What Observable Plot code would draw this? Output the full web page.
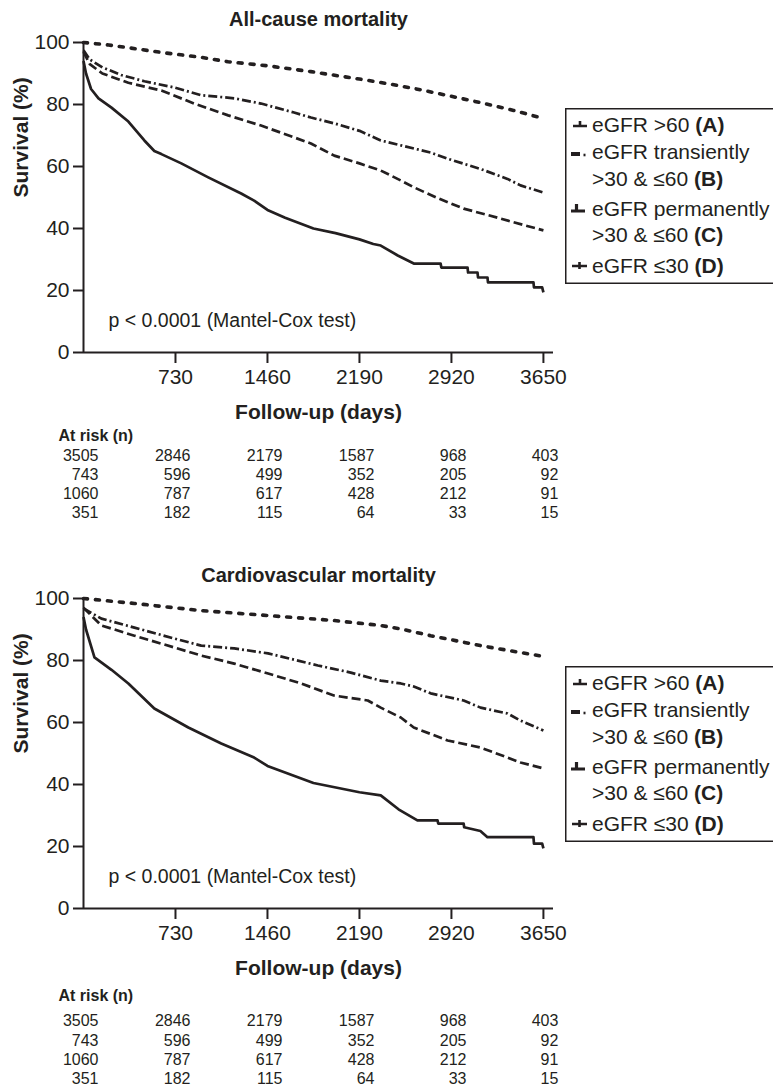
<!DOCTYPE html>
<html>
<head>
<meta charset="utf-8">
<script src="https://cdn.jsdelivr.net/npm/d3@7"></script>
<script src="https://cdn.jsdelivr.net/npm/@observablehq/plot@0.6"></script>
<style>
  body { margin: 0; background: #fff; }
  #root { position: relative; width: 773px; height: 1086px; overflow: hidden; background: #fff;
          font-family: "Liberation Sans", Arial, Helvetica, sans-serif; color: #231f20; }
  .panel { position: absolute; left: 0; }
  .legend { position: absolute; left: 565px; overflow: visible; }
  .legend text { white-space: pre; }
</style>
</head>
<body>
<div id="root"></div>
<script>
// ---------- data ----------
const xTicks = [730, 1460, 2190, 2920, 3650];
const yTicks = [0, 20, 40, 60, 80, 100];
const riskDays = [0, 730, 1460, 2190, 2920, 3650];
const riskA = [3505, 2846, 2179, 1587, 968, 403];
const riskB = [743, 596, 499, 352, 205, 92];
const riskC = [1060, 787, 617, 428, 212, 91];
const riskD = [351, 182, 115, 64, 33, 15];

const titles = ["All-cause mortality", "Cardiovascular mortality"];
const pText = "p < 0.0001 (Mantel-Cox test)";
const xLabel = "Follow-up (days)";
const yLabel = "Survival (%)";
const atRiskLabel = "At risk (n)";

// All-cause mortality: [day, survival %]
const allA = [[0,100],[200,99.2],[618,96.8],[934,95.2],[1148,93.8],[1460,92.5],[1805,90.6],[2190,88.2],[2359,87.1],[2621,85.2],[2890,82.9],[3151,80.6],[3413,78.1],[3650,75.5]];
const allB = [[0,97.5],[50,94.5],[150,92],[300,89.5],[483,87.5],[720,85.5],[934,83],[1196,82],[1409,80.3],[1671,77.4],[1805,75.8],[2000,73.8],[2190,71.5],[2359,68.4],[2755,64.5],[2890,62.5],[3151,59.2],[3365,56],[3468,53.9],[3650,51.6]];
const allC = [[0,97],[50,93],[150,90],[356,87],[618,84.5],[879,80.3],[1148,76.5],[1409,73.2],[1671,69.4],[1805,67.4],[1990,63.5],[2190,61],[2359,58.7],[2518,55.5],[2621,53.3],[2800,50],[3017,46.4],[3286,43.5],[3413,42],[3650,39.4]];
const allD = [[0,94],[20,90],[60,85],[119,82],[222,79],[356,74.5],[483,68.4],[562,65],[618,64],[776,61],[990,56.5],[1251,51.3],[1354,49],[1460,46],[1600,43.5],[1825,40],[2000,38.5],[2190,36.5],[2300,35],[2359,34.5],[2494,31.3],[2621,28.7],[2834,28.7],[2840,27.4],[3048,27.4],[3052,25.8],[3127,25.8],[3131,24.2],[3206,24.2],[3210,22.6],[3571,22.6],[3575,21],[3640,21],[3650,19.4]];

// Cardiovascular mortality: [day, survival %]
const cvA = [[0,100],[404,98.4],[934,96.1],[1465,94.5],[1987,92.9],[2359,91.3],[2518,90.2],[2755,88],[3151,84.8],[3650,81.3]];
const cvB = [[0,96.8],[142,93.5],[404,90.6],[720,87.1],[934,84.8],[1196,83.9],[1465,82.3],[1860,78.4],[2121,76.1],[2359,73.5],[2518,72.6],[2621,71.6],[2755,69.4],[3017,67.1],[3151,64.8],[3365,62.9],[3468,60.6],[3650,57.4]];
const cvC = [[0,97],[142,91.3],[404,88],[720,84.2],[934,81.6],[1196,79],[1465,75.8],[1726,72.6],[1987,68.7],[2256,67.1],[2359,64.8],[2518,61.6],[2621,58.4],[2890,54.2],[3151,51.9],[3365,48.7],[3468,47.1],[3650,45.2]];
const cvD = [[0,94],[20,90],[87,81],[222,77],[356,72.6],[562,64.5],[832,58.4],[1093,53.2],[1354,48.7],[1460,46],[1825,40.5],[2190,37.5],[2359,36.5],[2500,32],[2650,28.4],[2810,28.4],[2815,27.4],[3017,27.4],[3021,26.2],[3150,25],[3206,23],[3571,23],[3575,20.9],[3640,20.9],[3650,19.4]];

const legendEntries = [
  [{t: "eGFR >60 ", b: "(A)"}],
  [{t: "eGFR transiently", b: ""}, {t: ">30 & \u226460 ", b: "(B)"}],
  [{t: "eGFR permanently", b: ""}, {t: ">30 & \u226460 ", b: "(C)"}],
  [{t: "eGFR \u226430 ", b: "(D)"}]
];

// ---------- drawing ----------
const INK = "#231f20";
const FONT = '"Liberation Sans", Arial, Helvetica, sans-serif';
const styles = {
  A: {strokeWidth: 3.6, strokeDasharray: "4,8", strokeLinecap: "round"},
  B: {strokeWidth: 2.7, strokeDasharray: "9,3,2,3", strokeLinecap: "butt"},
  C: {strokeWidth: 2.7, strokeDasharray: "9,4", strokeLinecap: "butt"},
  D: {strokeWidth: 2.7, strokeDasharray: null, strokeLinecap: "butt"}
};
const riskRows = [riskA, riskB, riskC, riskD];

function toRows(pts) { return pts.map(([day, surv]) => ({day, surv})); }

function makePanel(title, curves, atRiskY, rowY) {
  const marks = [];
  for (const key of ["A", "B", "C", "D"]) {
    const s = styles[key];
    const opts = {x: "day", y: "surv", stroke: INK, strokeWidth: s.strokeWidth, strokeLinecap: s.strokeLinecap, strokeLinejoin: "round"};
    if (s.strokeDasharray) opts.strokeDasharray = s.strokeDasharray;
    marks.push(Plot.line(toRows(curves[key]), opts));
  }
  marks.push(
    Plot.ruleX([0], {stroke: INK, strokeWidth: 2}),
    Plot.ruleY([0], {stroke: INK, strokeWidth: 2}),
    Plot.axisX(xTicks, {tickSize: 11, tickPadding: 6, fontSize: 21, strokeWidth: 2, stroke: INK, fill: INK, label: null, tickFormat: d => String(d)}),
    Plot.axisY(yTicks, {tickSize: 10, tickPadding: 4, fontSize: 21, strokeWidth: 2, stroke: INK, fill: INK, label: null, tickFormat: d => String(d)}),
    Plot.text([title], {frameAnchor: "top", dy: -17, lineAnchor: "bottom", fontSize: 20, fontWeight: "bold", fill: INK}),
    Plot.text([yLabel], {frameAnchor: "left", rotate: -90, dx: -62, lineAnchor: "middle", fontSize: 21, fontWeight: "bold", fill: INK}),
    Plot.text([xLabel], {frameAnchor: "bottom", dy: 66, lineAnchor: "bottom", fontSize: 21, fontWeight: "bold", fill: INK}),
    Plot.text([pText], {frameAnchor: "bottom-left", dx: 25, dy: -26, textAnchor: "start", lineAnchor: "bottom", fontSize: 19.5, fill: INK}),
    Plot.text([atRiskLabel], {frameAnchor: "bottom-left", dx: -25, dy: atRiskY - 352, textAnchor: "start", lineAnchor: "bottom", fontSize: 16, fontWeight: "bold", fill: INK})
  );
  riskRows.forEach((row, i) => {
    marks.push(Plot.text(row.map((n, j) => ({day: riskDays[j], n: String(n)})), {
      x: "day", text: "n", frameAnchor: "bottom", dy: rowY[i] - 352, dx: 15,
      textAnchor: "end", lineAnchor: "bottom", fontSize: 16, fill: INK
    }));
  });
  return Plot.plot({
    width: 773, height: 530,
    marginLeft: 83, marginRight: 220, marginTop: 42, marginBottom: 178,
    x: {domain: [0, 3730]},
    y: {domain: [0, 100]},
    style: {fontFamily: FONT, fontSize: "21px", color: INK, background: "transparent", overflow: "visible"},
    marks
  });
}

function makeLegend(top) {
  const ns = "http://www.w3.org/2000/svg";
  const w = 230, h = 175;
  const baselines = [[24], [51, 78], [108, 134], [165]];
  let s = `<svg xmlns="${ns}" class="legend" width="${w}" height="${h + 2}" style="top:${top}px" font-family='${FONT}' font-size="21" fill="${INK}">`;
  s += `<rect x="0.75" y="0.75" width="${w + 20}" height="${h - 0.5}" fill="white" stroke="${INK}" stroke-width="1.5"/>`;
  legendEntries.forEach((lines, i) => {
    lines.forEach((ln, k) => {
      const y = baselines[i][k];
      s += `<text x="27" y="${y}">${ln.t.replace(/&/g, "&amp;").replace(/</g, "&lt;").replace(/>/g, "&gt;")}${ln.b ? `<tspan font-weight="bold">${ln.b}</tspan>` : ""}</text>`;
    });
    const b = baselines[i][0];
    const g = `stroke="${INK}" stroke-width="2.6" fill="none"`;
    if (i === 0) s += `<path d="M8 ${b - 6}H22M15 ${b - 11}V${b - 6}" ${g}/>`;
    if (i === 1) s += `<path d="M6 ${b - 5}H15" stroke="${INK}" stroke-width="4" fill="none"/><path d="M18.5 ${b - 4}H20.5" ${g}/>`;
    if (i === 2) s += `<path d="M6 ${b - 5}H20M11.5 ${b - 12}V${b - 5}" stroke="${INK}" stroke-width="3.2" fill="none"/>`;
    if (i === 3) s += `<path d="M7 ${b - 7}H22M14.5 ${b - 11}V${b - 4}" ${g}/>`;
  });
  s += `</svg>`;
  return s;
}

const root = document.getElementById("root");
const p1 = makePanel(titles[0], {A: allA, B: allB, C: allC, D: allD}, 440, [460, 479, 498, 517]);
p1.classList.add("panel"); p1.style.top = "0px"; p1.style.position = "absolute";
root.appendChild(p1);
const p2 = makePanel(titles[1], {A: cvA, B: cvB, C: cvC, D: cvD}, 444, [469, 489, 508, 527]);
p2.classList.add("panel"); p2.style.top = "556px"; p2.style.position = "absolute";
root.appendChild(p2);
root.insertAdjacentHTML("beforeend", makeLegend(108) + makeLegend(666));
</script>
</body>
</html>
